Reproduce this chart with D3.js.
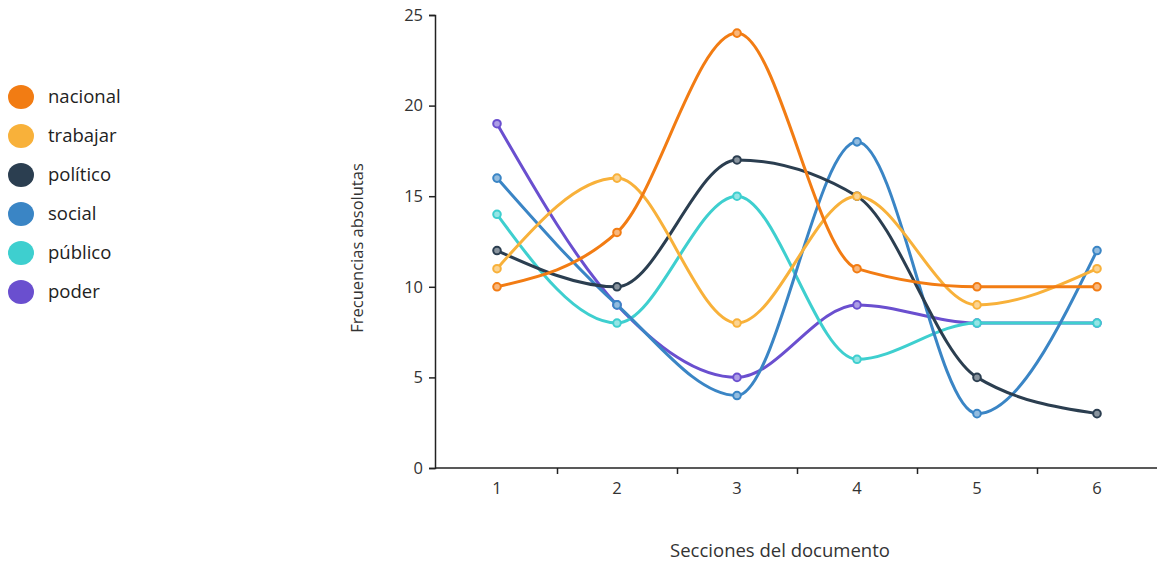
<!DOCTYPE html>
<html><head><meta charset="utf-8">
<script src="https://cdn.jsdelivr.net/npm/d3@7"></script>
<style>body{margin:0;background:#fff;font-family:"Open Sans",sans-serif;}</style>
</head><body><svg id="c" width="1157" height="563"></svg>
<script>
const categories = [1, 2, 3, 4, 5, 6];
const seriesNames = ["nacional", "trabajar", "político", "social", "público", "poder"];
const nacional = [10, 13, 24, 11, 10, 10];
const trabajar = [11, 16, 8, 15, 9, 11];
const politico = [12, 10, 17, 15, 5, 3];
const social = [16, 9, 4, 18, 3, 12];
const publico = [14, 8, 15, 6, 8, 8];
const poder = [19, 9, 5, 9, 8, 8];
const colors = ["#f27c13", "#f8b13a", "#2b3e50", "#3a85c5", "#3ecfcf", "#6a4fcf"];
const yTicks = [0, 5, 10, 15, 20, 25];

const values = [nacional, trabajar, politico, social, publico, poder];
const series = seriesNames.map((n, i) => ({name: n, color: colors[i], values: values[i]}));

const svg = d3.select("#c");
const x = d3.scaleBand().domain(categories).range([437, 1157]);
const xl = d3.scaleLinear().domain([0.5, 6.5]).range([437, 1157]);
const y = d3.scaleLinear().domain([0, 25]).range([468, 15]);

// y axis
const ya = svg.append("g").attr("transform", "translate(435,0)")
  .call(d3.axisLeft(y).tickValues(yTicks).tickSize(6).tickPadding(6));
ya.selectAll("text").style("font-size", "16.5px").style("font-family", "Open Sans").attr("fill", "#333");
ya.selectAll("line,path").attr("stroke", "#222").attr("stroke-width", 1.5);

// x axis labels
const xa = svg.append("g").attr("transform", "translate(0,468)")
  .call(d3.axisBottom(x).tickSize(0).tickPadding(14));
xa.selectAll("text").style("font-size", "16.5px").style("font-family", "Open Sans").attr("fill", "#333");
xa.select("path").attr("stroke", "#222").attr("stroke-width", 1.5).attr("d", "M435,0H1157");
// boundary ticks
svg.append("g").attr("transform", "translate(0,468)")
  .call(d3.axisBottom(xl).tickValues([1.5, 2.5, 3.5, 4.5, 5.5]).tickSize(6).tickFormat(""))
  .call(g => g.select("path").remove())
  .selectAll("line").attr("stroke", "#222").attr("stroke-width", 1.5);

// axis titles
svg.append("text").attr("transform", "translate(363,248) rotate(-90)")
  .attr("text-anchor", "middle").style("font-size", "16.5px").attr("fill", "#333")
  .text("Frecuencias absolutas");
svg.append("text").attr("x", 780).attr("y", 557)
  .attr("text-anchor", "middle").style("font-size", "18.5px").attr("fill", "#333")
  .text("Secciones del documento");

// lines
const line = d3.line().x((d, i) => x(categories[i]) + x.bandwidth() / 2).y(d => y(d)).curve(d3.curveMonotoneX);
const order = series.slice().reverse();
const g = svg.append("g");
order.forEach(s => {
  g.append("path").attr("d", line(s.values)).attr("fill", "none")
    .attr("stroke", s.color).attr("stroke-width", 3);
  g.selectAll(null).data(s.values).enter().append("circle")
    .attr("cx", (d, i) => x(categories[i]) + x.bandwidth() / 2)
    .attr("cy", d => y(d)).attr("r", 3.8)
    .attr("fill", d3.interpolateRgb(s.color, "#fff")(0.45))
    .attr("stroke", s.color).attr("stroke-width", 2);
});

// legend
const lg = svg.append("g");
series.forEach((s, i) => {
  const yy = 97 + i * 39;
  lg.append("ellipse").attr("cx", 21).attr("cy", yy).attr("rx", 13).attr("ry", 12).attr("fill", s.color);
  lg.append("text").attr("x", 48).attr("y", yy + 6).style("font-size", "18.5px").attr("fill", "#222").text(s.name);
});
</script></body></html>
